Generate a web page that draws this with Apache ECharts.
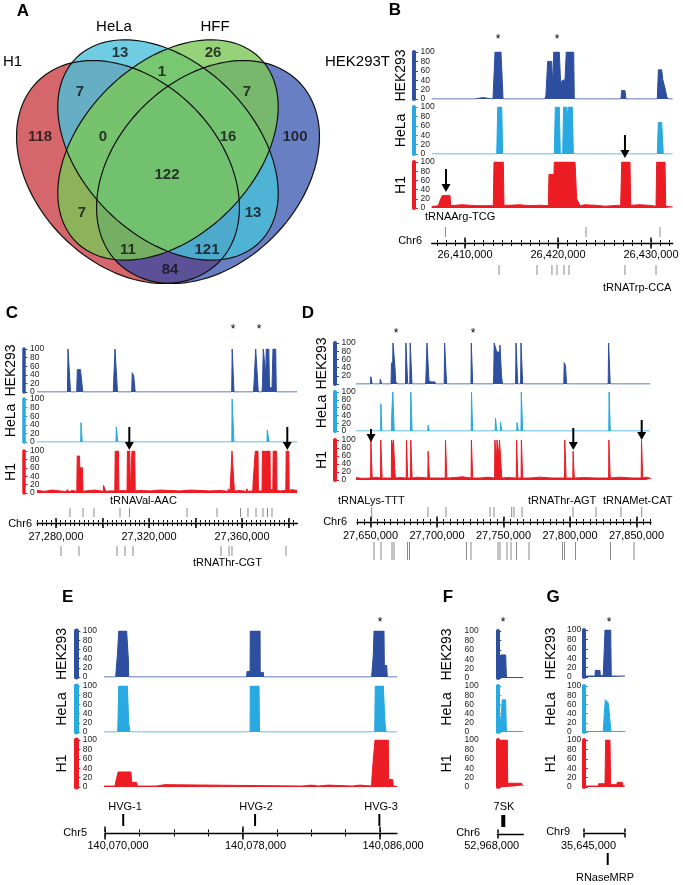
<!DOCTYPE html>
<html>
<head>
<meta charset="utf-8">
<script src="https://cdn.jsdelivr.net/npm/echarts@6/dist/echarts.min.js"></script>
<style>
  html, body { margin: 0; padding: 0; background: #fff; }
  #main { width: 683px; height: 885px; }
</style>
</head>
<body>
<div id="main"></div>
<script>
var FONT = '"Liberation Sans", Arial, sans-serif';

// ---------- A: Venn ----------
var vennSets = ['H1', 'HeLa', 'HFF', 'HEK293T'];
var vennCounts = [13, 26, 1, 7, 7, 118, 0, 16, 100, 122, 7, 13, 11, 121, 84];

// track y ticks (0-100 scale)
var trackTicks = [0, 20, 40, 60, 80, 100];

// ---------- B: chr6 26.40 Mb (x = kb past 26,400,000) ----------
var hekB = [[6.42,0],[11.0,0],[11.08,3],[11.94,3],[12.0,0],[13.01,0],[13.23,100],[13.87,100],[14.09,0],[18.6,0],[18.7,8],[18.78,10],[18.89,80],[19.32,80],[19.43,30],[19.54,100],[20.14,100],[20.29,30],[20.46,40],[20.75,40],[20.89,100],[21.69,100],[21.75,0],[26.77,0],[26.85,18],[27.2,18],[27.31,0],[30.68,0],[30.79,62],[31.15,62],[31.26,42],[31.43,42],[31.54,20],[31.69,5],[31.86,0],[32.33,0]];
var helaB = [[6.42,0],[13.41,0],[13.52,100],[13.95,100],[14.05,0],[19.6,0],[19.71,100],[20.14,100],[20.25,0],[20.5,0],[20.6,100],[20.94,100],[21.0,75],[21.1,100],[21.54,100],[21.65,0],[30.68,0],[30.79,67],[31.15,67],[31.32,0],[32.33,0]];
var h1B = [[6.42,3],[7.13,5],[7.39,20],[7.56,27],[8.39,27],[8.46,5],[9.65,7],[10.54,6],[11.08,5],[12.69,5],[13.04,5],[13.12,100],[14.12,100],[14.19,6],[14.84,6],[15.91,7],[16.99,5],[18.06,6],[18.96,5],[19.03,73],[19.57,73],[19.6,100],[21.83,100],[22.01,20],[22.37,5],[22.9,7],[23.98,6],[25.05,4],[26.74,6],[26.85,100],[27.74,100],[27.82,6],[28.82,7],[29.68,6],[30.54,4],[30.61,100],[31.51,100],[31.58,4],[32.33,2]];
var majorB = [10, 20, 30];
var genesUpB = [7.9, 23.01, 30.97];
var genesDownB = [13.66, 17.74, 19.35, 19.89, 20.65, 21.18, 27.2, 30.54];
var arrowsB = [7.96, 27.2];

// ---------- C: chr6 27.2 Mb ----------
var hekC = [[71.83,0],[84.95,0],[85.16,100],[86.02,100],[86.24,0],[88.9,0],[89.16,52],[90.54,52],[90.62,47],[91.31,47],[91.53,0],[104.65,0],[104.78,22],[105.16,22],[105.38,100],[106.24,100],[106.45,0],[112.56,0],[112.77,45],[113.33,45],[113.42,38],[113.89,38],[114.06,0],[155.57,0],[155.78,100],[156.34,100],[156.56,0],[164.95,0],[165.16,18],[165.72,18],[165.89,100],[166.75,100],[167.01,0],[168.6,0],[168.82,20],[169.16,100],[169.89,100],[170.19,40],[170.41,100],[171.53,100],[171.83,10],[172.9,10],[173.33,100],[174.49,100],[174.75,0],[183.66,0]];
var helaC = [[71.83,0],[90.62,0],[90.75,45],[91.18,45],[91.31,0],[105.81,0],[105.94,35],[106.45,35],[106.58,0],[155.61,0],[155.74,100],[156.39,100],[156.52,0],[170.75,0],[170.88,28],[171.48,28],[171.61,0],[183.66,0]];
var h1C = [[71.83,6],[75.27,4],[78.28,7],[81.72,5],[84.52,3],[84.73,8],[85.59,8],[85.81,3],[86.88,6],[88.95,4],[89.12,88],[90.11,88],[90.24,60],[91.4,60],[91.61,4],[92.9,5],[96.77,7],[100.34,4],[100.43,18],[101.29,18],[101.42,4],[103.23,5],[105.29,5],[105.46,100],[106.88,100],[107.05,5],[108.39,6],[110.54,5],[110.71,100],[111.74,100],[111.91,5],[112.52,5],[112.69,100],[113.89,100],[114.06,5],[116.13,6],[120.43,5],[124.73,7],[129.03,6],[133.33,5],[137.63,7],[141.94,6],[146.24,5],[150.54,6],[153.98,4],[154.11,10],[154.75,10],[154.84,4],[155.53,4],[155.7,100],[156.56,100],[156.73,4],[158.28,6],[160.43,5],[161.94,4],[162.07,10],[162.37,10],[162.5,4],[164.65,5],[164.82,30],[165.59,30],[165.72,100],[166.88,100],[167.05,5],[167.74,6],[168.6,5],[168.77,100],[169.68,100],[169.89,60],[170.06,100],[172.04,100],[172.21,8],[173.25,8],[173.42,100],[174.88,100],[175.05,6],[176.34,5],[178.84,6],[179.01,100],[180.13,100],[180.3,6],[181.51,8],[183.66,6]];
var majorC = [80, 100, 120, 140, 160, 180];
var labelC = [80, 120, 160];
var genesUpC = [86.02, 91.61, 96.34, 107.53, 111.61, 136.34, 149.25, 159.35, 162.58, 166.02, 169.03, 170.97, 172.9];
var genesDownC = [82.15, 89.89, 106.24, 109.68, 113.12, 150.97, 154.41, 155.7, 178.92];
var arrowsC = [111.53, 179.48];

// ---------- D: chr6 27.6 Mb ----------
var hekD = [[39.1,0],[50,0],[50.23,18],[50.98,18],[51.2,0],[57.14,0],[57.37,12],[58.2,12],[58.42,0],[65.41,0],[65.79,50],[66.69,55],[66.92,100],[68.05,100],[68.42,40],[68.95,5],[70.15,5],[70.38,0],[76.32,0],[76.62,100],[77.67,100],[77.97,0],[79.55,0],[79.85,100],[80.9,100],[81.2,0],[91.35,0],[91.58,8],[92.18,8],[92.48,100],[93.68,100],[93.98,8],[95.49,5],[98.5,5],[98.72,0],[105.41,0],[105.71,100],[106.92,100],[107.22,0],[125.56,0],[125.79,100],[126.62,100],[126.84,0],[142.33,0],[142.63,20],[143.01,100],[144.51,100],[144.89,78],[147.14,78],[147.37,95],[148.27,95],[148.5,20],[149.25,0],[159.1,0],[159.4,100],[160.38,100],[160.68,0],[162.86,0],[163.16,100],[164.14,100],[164.44,0],[195.34,0],[195.64,52],[196.62,45],[197.37,0],[228.72,0],[229.02,100],[229.92,100],[230.23,0],[253.0,0],[253.23,4],[253.98,4],[254.21,0],[260.15,0]];
var helaD = [[39.1,0],[57.59,0],[57.82,70],[58.27,70],[58.5,0],[65.71,0],[65.94,40],[66.54,40],[66.77,100],[67.59,100],[67.82,0],[80.08,0],[80.3,100],[81.05,100],[81.28,0],[93.08,0],[93.31,15],[93.98,15],[94.21,0],[125.71,0],[125.94,100],[126.62,100],[126.84,0],[143.76,0],[143.98,33],[144.66,33],[144.89,0],[147.59,0],[147.82,22],[148.5,22],[148.72,0],[160.0,0],[160.23,22],[160.9,22],[161.13,0],[163.16,0],[163.38,100],[164.21,100],[164.44,0],[229.17,0],[229.4,100],[230.08,100],[230.3,0],[260.15,0]];
var h1D = [[39.1,6],[43.6,4],[50.08,5],[50.3,100],[51.05,100],[51.28,5],[54.14,7],[57.52,5],[57.74,100],[58.5,100],[58.72,5],[61.65,5],[65.64,5],[65.86,100],[66.7,100],[66.92,80],[67.2,100],[68.42,100],[68.65,5],[72.18,6],[76.84,5],[77.07,100],[77.74,100],[77.97,5],[80.08,5],[80.3,100],[81.05,100],[81.28,5],[85.71,7],[93.08,5],[93.31,72],[94.14,72],[94.36,5],[99.25,5],[106.17,5],[106.39,100],[107.14,100],[107.37,5],[113.53,6],[118.8,8],[125.64,5],[125.86,100],[126.62,100],[126.84,5],[132.33,5],[138.35,7],[143.31,5],[143.53,100],[144.6,100],[144.8,50],[145.1,100],[146.5,100],[146.7,60],[147,100],[148.42,100],[148.72,5],[153.38,6],[159.62,5],[159.85,100],[160.53,100],[160.75,5],[163.23,5],[163.46,100],[164.21,100],[164.44,5],[169.92,5],[177.44,7],[186.47,5],[195.86,5],[196.09,100],[196.84,100],[197.07,5],[202.11,5],[202.33,72],[203.01,72],[203.23,5],[211.28,6],[218.8,5],[229.02,5],[229.25,100],[230,100],[230.23,5],[237.59,7],[246.62,5],[253.53,5],[253.76,100],[254.44,100],[254.66,5],[257.14,7],[260.9,4]];
var majorD = [50, 100, 150, 200, 250];
var genesUpD = [50.9, 93.23, 106.77, 139.85, 142.86, 156.17, 157.89, 163.91, 202.26, 219.55, 238.35, 253.91];
var genesDownD = [52.63, 57.89, 66.17, 67.67, 77.82, 79.32, 122.18, 125.56, 145.86, 147.37, 152.63, 155.64, 159.77, 169.17, 194.36, 195.86, 204.14, 230.45, 248.12];
var arrowsD = [50.38, 202.48, 253.91];

// ---------- E: chr5 140 Mb ----------
var hekE = [[69.94,0],[70.62,0],[70.72,48],[70.8,100],[71.26,100],[71.36,37],[71.38,0],[78.24,0],[78.26,12],[78.44,12],[78.45,100],[79.02,100],[79.03,10],[79.21,10],[79.23,0],[85.51,0],[85.61,50],[85.65,100],[86.23,100],[86.25,25],[86.39,25],[86.42,0],[86.99,0]];
var helaE = [[69.94,0],[70.74,0],[70.8,100],[71.3,100],[71.38,20],[71.45,0],[78.44,0],[78.45,100],[78.96,100],[78.99,0],[85.69,0],[85.72,100],[86.19,100],[86.29,20],[86.35,0],[86.99,0]];
var h1E = [[69.94,2],[70.58,2],[70.68,20],[70.77,32],[71.51,32],[71.55,10],[71.84,10],[71.88,2],[73.0,2],[73.02,5],[73.49,5],[73.51,2],[81.44,2],[81.46,4],[82.02,4],[82.04,2],[82.41,2],[82.43,4],[82.99,4],[83.01,2],[84.41,2],[84.43,4],[84.83,4],[84.85,2],[85.51,2],[85.53,20],[85.61,60],[85.71,100],[86.48,100],[86.5,16],[86.74,16],[86.77,2],[86.99,1]];
var majorE = [70, 78, 86];
var genesE = [71.06, 78.73, 85.96];

// ---------- F: 7SK (x = bp past 52,968,000) ----------
var hekF = [[0,1],[22,2],[31,20],[52,49],[129,49],[138,10],[145,1],[400,1]];
var helaF = [[0,1],[22,2],[31,15],[46,22],[62,40],[77,70],[129,70],[138,10],[149,1],[400,1]];
var h1F = [[-9,4],[6,5],[15,100],[154,100],[160,8],[375,8],[385,3],[400,3]];
var genesF = [92];

// ---------- G: RNaseMRP (x = bp past 35,645,000) ----------
var hekG = [[0,2],[161,2],[165,14],[234,14],[239,3],[282,3],[297,60],[307,100],[391,100],[399,2],[600,2]];
var helaG = [[0,1],[282,1],[297,40],[312,70],[341,70],[356,63],[380,60],[395,1],[600,1]];
var h1G = [[0,2],[209,2],[215,7],[307,7],[317,100],[380,100],[391,5],[478,5],[487,10],[560,10],[570,2],[600,2]];
var genesG = [347];

var trackNames = ['HEK293', 'HeLa', 'H1'];
var trackColors = ['#2e4e9f', '#28a9e1', '#ec1c24'];

function steps(a, b, s) {
  var r = [];
  for (var v = a; v <= b + 1e-9; v += s) r.push(Math.round(v * 1000) / 1000);
  return r;
}
function commas(n) {
  return String(n).replace(/\B(?=(\d{3})+(?!\d))/g, ',');
}

// layout of each genome panel
var panels = [
  { base: 26400, scale: 1000, refV: 10, refPx: 465, ppu: 9.3, bar: 414, barW: 4, x0: 431.7, x1: 672.7, nameGap: 6,
    rows: [[52, 99], [107, 154], [162, 208]], tracks: [hekB, helaB, h1B], hide0: false,
    rulerY: 243, major: majorB, minor: steps(7, 32, 1), labels: majorB, tickL: [5, 2.5], labelMargin: 6, labelPad: 0,
    genes: [[genesUpB, -16, -6], [genesDownB, 22, 32]], geneStyle: ['#8a8a8a', 1],
    arrows: arrowsB, arrowY: [[169, 192], [135, 158]] },
  { base: 27200, scale: 1000, refV: 80, refPx: 56, ppu: 2.325, bar: 23.5, barW: 3.5, x0: 37, x1: 297.5, nameGap: 5,
    rows: [[349, 392], [399, 442], [451, 493]], tracks: [hekC, helaC, h1C], hide0: false,
    rulerY: 523, major: majorC, minor: steps(72, 184, 2), labels: labelC, tickL: [4.5, 2.5], labelMargin: 8, labelPad: 0,
    genes: [[genesUpC, -15, -6], [genesDownC, 23, 33]], geneStyle: ['#8a8a8a', 1],
    arrows: arrowsC, arrowY: [[427, 450], [427, 450]] },
  { base: 27600, scale: 1000, refV: 50, refPx: 370.5, ppu: 1.33, bar: 335, barW: 4, x0: 357, x1: 651, nameGap: 6,
    rows: [[343, 384], [392, 431], [440, 480]], tracks: [hekD, helaD, h1D], hide0: true,
    rulerY: 522, major: majorD, minor: steps(40, 260, 5), labels: majorD, tickL: [5, 2.5], labelMargin: 8, labelPad: 0,
    genes: [[genesUpD, -15, -5], [genesDownD, 20, 38]], geneStyle: ['#8a8a8a', 1],
    arrows: arrowsD, arrowY: [[429, 442], [428, 450], [420, 440]] },
  { base: 140000, scale: 1000, refV: 70, refPx: 105, ppu: 17.19, bar: 76.3, barW: 5, x0: 105, x1: 397, nameGap: 7,
    rows: [[631, 677], [686, 732], [740, 787]], tracks: [hekE, helaE, h1E], hide0: false,
    rulerY: 833, major: majorE, minor: steps(70, 86, 2), labels: majorE, tickL: [6, 3], labelMargin: 6.5, labelPad: 13,
    genes: [[genesE, -19, -7]], geneStyle: ['#000', 2],
    arrows: [], arrowY: [] },
  { base: 52968000, scale: 1, refV: 0, refPx: 497.3, ppu: 0.065, bar: 458, barW: 4, x0: 497.3, x1: 523.3, nameGap: 4,
    rows: [[631, 678], [686, 732], [740, 787]], tracks: [hekF, helaF, h1F], hide0: false,
    rulerY: 834, major: [0, 400], minor: [], labels: [0], tickL: [4, 0], labelMargin: 5.5, labelPad: -5.6,
    genes: [[genesF, -19, -7]], geneStyle: ['#000', 4],
    arrows: [], arrowY: [] },
  { base: 35645000, scale: 1, refV: 0, refPx: 584, ppu: 41 / 600, bar: 560.5, barW: 4, x0: 584, x1: 625, nameGap: 2,
    rows: [[630, 677], [686, 732], [740, 787]], tracks: [hekG, helaG, h1G], hide0: false,
    rulerY: 833, major: [0, 600], minor: [], labels: [0], tickL: [4, 0], labelMargin: 6.5, labelPad: 4.5,
    genes: [[genesG, 20, 32]], geneStyle: ['#000', 2],
    arrows: [], arrowY: [] }
];

var grids = [], xAxes = [], yAxes = [], series = [];

function addGrid(left, top, width, height) {
  grids.push({ left: left, top: top, width: width, height: height });
  return grids.length - 1;
}

// Venn grid in its own pixel-like units
var vg = addGrid(0, 0, 340, 300);
xAxes.push({ gridIndex: vg, type: 'value', min: 0, max: 340, show: false });
yAxes.push({ gridIndex: vg, type: 'value', min: 0, max: 300, inverse: true, show: false });
var vx = xAxes.length - 1, vy = yAxes.length - 1;
// ellipse geometry [cx, cy, angle, semi-major, semi-minor], draw order H1, HEK293T, HeLa, HFF
var vennGeo = [[128, 172, 45, 128, 92], [208, 172, -45, 128, 92], [168, 150, 45, 130, 86], [168, 150, -45, 130, 86]];
var vennFill = ['rgba(185,0,10,0.6)', 'rgba(42,72,171,0.7)', 'rgba(74,192,219,0.8)', 'rgba(124,199,86,0.8)'];
var vennCountPos = [[120,53],[213,53],[162,72],[80,92],[247,92],[40,137],[103,137],[228,137],[295,137],[167,175],[82,213],[253,213],[128,250],[207,250],[170,270]];

function ellipsePts(cx, cy, a, b, ang) {
  var pts = [], ca = Math.cos(ang), sa = Math.sin(ang);
  for (var k = 0; k < 120; k++) {
    var t = k / 120 * 2 * Math.PI, ex = a * Math.cos(t), ey = b * Math.sin(t);
    pts.push([cx + ex * ca - ey * sa, cy + ex * sa + ey * ca]);
  }
  return pts;
}
function vennRender(fill) {
  return function (params, api) {
    var c = api.coord([api.value(0), api.value(1)]);
    var s = api.size([api.value(3), api.value(4)]);
    return {
      type: 'polygon',
      shape: { points: ellipsePts(c[0], c[1], Math.abs(s[0]), Math.abs(s[1]), api.value(2) * Math.PI / 180) },
      style: fill ? { fill: vennFill[params.dataIndex], stroke: null } : { fill: null, stroke: '#111', lineWidth: 1.2 }
    };
  };
}
series.push({ type: 'custom', xAxisIndex: vx, yAxisIndex: vy, data: vennGeo, silent: true, z: 1, renderItem: vennRender(true) });
series.push({ type: 'custom', xAxisIndex: vx, yAxisIndex: vy, data: vennGeo, silent: true, z: 2, renderItem: vennRender(false) });
series.push({
  type: 'scatter', xAxisIndex: vx, yAxisIndex: vy, z: 3, silent: true,
  symbolSize: 1, itemStyle: { color: 'rgba(0,0,0,0)' },
  data: vennCountPos.map(function (p, i) { return [p[0], p[1], vennCounts[i]]; }),
  label: { show: true, position: 'inside', formatter: function (p) { return String(p.value[2]); },
           fontSize: 15, fontWeight: 'bold', color: '#111', fontFamily: FONT }
});

panels.forEach(function (p) {
  var toV = function (px) { return p.refV + (px - p.refPx) / p.ppu; };
  var fmt = function (v) { return commas(Math.round((p.base + v) * p.scale)); };
  var h1Axis = null;

  p.rows.forEach(function (r, i) {
    var g = addGrid(p.bar, r[0], p.x1 - p.bar, r[1] - r[0]);
    var xMin = toV(p.bar);
    xAxes.push({ gridIndex: g, type: 'value', min: xMin, max: toV(p.x1), show: false });
    yAxes.push({
      gridIndex: g, type: 'value', min: 0, max: 100, interval: 20,
      name: trackNames[i], nameLocation: 'middle', nameRotate: 90, nameGap: p.nameGap,
      nameTextStyle: { fontSize: 14, color: '#000', fontFamily: FONT },
      axisLine: { show: true, lineStyle: { color: trackColors[i], width: p.barW } },
      axisTick: { show: true, inside: true, length: 4, customValues: trackTicks, lineStyle: { color: trackColors[i], width: 1 } },
      axisLabel: { show: false },
      splitLine: { show: false }
    });
    var xi = xAxes.length - 1, yi = yAxes.length - 1;
    series.push({
      type: 'line', xAxisIndex: xi, yAxisIndex: yi,
      data: p.tracks[i], symbol: 'none', silent: true,
      lineStyle: { color: trackColors[i], width: 1 },
      areaStyle: { color: trackColors[i], opacity: 1 }
    });
    // tick labels of the 0-100 scale, placed through the track's own y axis
    var labs = (p.hide0 && i === 0) ? trackTicks.slice(1) : trackTicks;
    series.push({
      type: 'custom', xAxisIndex: xi, yAxisIndex: yi, clip: false, silent: true, z: 6,
      data: labs.map(function (v) { return [xMin, v]; }),
      renderItem: function (params, api) {
        var pt = api.coord([api.value(0), api.value(1)]);
        return { type: 'text', x: pt[0] + 6.5, y: pt[1],
                 style: { text: String(api.value(1)), fill: '#222', fontSize: 8.5, fontFamily: FONT,
                          align: 'left', verticalAlign: 'middle' } };
      }
    });
    if (i === 2) h1Axis = [xi, yi];
  });

  // arrows pointing at H1 peaks
  if (p.arrows.length) {
    series.push({
      type: 'custom', xAxisIndex: h1Axis[0], yAxisIndex: h1Axis[1], clip: false, silent: true, z: 10,
      data: p.arrows.map(function (v) { return [v, 0]; }),
      renderItem: function (params, api) {
        var x = api.coord([api.value(0), 0])[0];
        var y = p.arrowY[params.dataIndex];
        return { type: 'group', children: [
          { type: 'line', shape: { x1: x, y1: y[0], x2: x, y2: y[1] - 6 }, style: { stroke: '#000', lineWidth: 2 } },
          { type: 'polygon', shape: { points: [[x - 4.5, y[1] - 8], [x + 4.5, y[1] - 8], [x, y[1]]] }, style: { fill: '#000' } }
        ] };
      }
    });
  }

  // chromosome ruler
  var rg = addGrid(p.x0, p.rulerY - 0.5, p.x1 - p.x0, 1);
  yAxes.push({ gridIndex: rg, type: 'value', min: 0, max: 1, show: false });
  var ry = yAxes.length - 1;
  var base = { gridIndex: rg, type: 'value', min: toV(p.x0), max: toV(p.x1), splitLine: { show: false } };
  function rulerAxis(pos, ticks, len, withLine, withLabels) {
    var ax = Object.assign({}, base, {
      position: pos,
      axisLine: { show: withLine, onZero: false, lineStyle: { color: '#000', width: 1.3 } },
      axisTick: { show: ticks.length > 0 && len > 0, customValues: ticks, length: len, lineStyle: { color: '#000', width: len > 3.5 ? 1.5 : 1 } },
      axisLabel: { show: false }
    });
    if (withLabels) {
      var pad = p.labelPad >= 0 ? [0, 0, 0, 2 * p.labelPad] : [0, -2 * p.labelPad, 0, 0];
      ax.axisLabel = { show: true, customValues: p.labels, formatter: fmt, margin: p.labelMargin,
                       showMinLabel: true, showMaxLabel: true,
                       fontSize: 11, color: '#000', fontFamily: FONT, padding: pad };
    }
    xAxes.push(ax);
    return xAxes.length - 1;
  }
  var rx = rulerAxis('bottom', p.major, p.tickL[0], true, true);
  rulerAxis('top', p.major, p.tickL[0], false, false);
  if (p.minor.length) {
    rulerAxis('bottom', p.minor, p.tickL[1], false, false);
    rulerAxis('top', p.minor, p.tickL[1], false, false);
  }

  // gene marks above / below the ruler
  p.genes.forEach(function (gset) {
    series.push({
      type: 'custom', xAxisIndex: rx, yAxisIndex: ry, clip: false, silent: true, z: 4,
      data: gset[0].map(function (v) { return [v, 0]; }),
      renderItem: function (params, api) {
        var x = api.coord([api.value(0), 0])[0];
        return { type: 'line', shape: { x1: x, y1: p.rulerY + gset[1], x2: x, y2: p.rulerY + gset[2] },
                 style: { stroke: p.geneStyle[0], lineWidth: p.geneStyle[1] } };
      }
    });
  });
});

// text annotations
function T(x, y, s, o) {
  o = o || {};
  return { type: 'text', x: x, y: y, silent: true, z: 20,
           style: { text: s, fill: '#000', fontSize: o.size || 11, fontWeight: o.bold ? 'bold' : 'normal',
                    fontFamily: FONT, align: o.align || 'center', verticalAlign: 'middle' } };
}
var texts = [
  T(23, 11, 'A', { size: 17, bold: true }), T(395, 10, 'B', { size: 17, bold: true }),
  T(12, 313, 'C', { size: 17, bold: true }), T(308, 313, 'D', { size: 17, bold: true }),
  T(67.7, 597.5, 'E', { size: 17, bold: true }), T(448, 597, 'F', { size: 17, bold: true }),
  T(553, 597, 'G', { size: 17, bold: true }),
  T(3, 62, vennSets[0], { size: 15, align: 'left' }), T(114, 27, vennSets[1], { size: 15 }),
  T(215, 27, vennSets[2], { size: 15 }), T(325, 62, vennSets[3], { size: 15, align: 'left' }),
  T(425, 217, 'tRNAArg-TCG', { align: 'left' }), T(603, 288, 'tRNATrp-CCA', { align: 'left' }),
  T(110, 501, 'tRNAVal-AAC', { align: 'left' }), T(193, 563, 'tRNAThr-CGT', { align: 'left' }),
  T(338, 501, 'tRNALys-TTT', { align: 'left' }), T(528, 501, 'tRNAThr-AGT', { align: 'left' }),
  T(603, 501, 'tRNAMet-CAT', { align: 'left' }),
  T(125, 807, 'HVG-1'), T(256, 807, 'HVG-2'), T(381, 807, 'HVG-3'),
  T(504, 807, '7SK'), T(605, 878, 'RNaseMRP'),
  T(422, 241, 'Chr6', { align: 'right' }), T(32, 524, 'Chr6', { align: 'right' }),
  T(347, 522, 'Chr6', { align: 'right' }), T(87, 833, 'Chr5', { align: 'right' }),
  T(480, 833, 'Chr6', { align: 'right' }), T(570, 832, 'Chr9', { align: 'right' })
];
[[498, 40], [557, 40], [233, 330], [259, 330], [396, 334], [473, 334], [380, 623], [503, 623], [609, 623]].forEach(function (s) {
  texts.push(T(s[0], s[1], '*', { size: 12 }));
});

var myChart = echarts.init(document.getElementById('main'));
myChart.setOption({
  animation: false,
  textStyle: { fontFamily: FONT },
  grid: grids,
  xAxis: xAxes,
  yAxis: yAxes,
  series: series,
  graphic: { elements: texts }
});
</script>
</body>
</html>
